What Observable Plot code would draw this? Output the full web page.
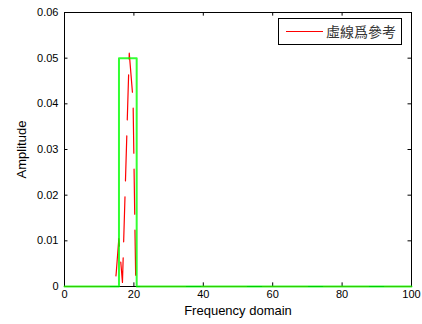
<!DOCTYPE html>
<html>
<head>
<meta charset="utf-8">
<script src="https://cdn.jsdelivr.net/npm/d3@7"></script>
<script src="https://cdn.jsdelivr.net/npm/@observablehq/plot@0.6"></script>
<style>
  html, body { margin: 0; padding: 0; background: white; }
  #wrap { position: relative; width: 422px; height: 324px; }
  #legend {
    position: absolute; left: 278px; top: 18px; width: 124px; height: 27px;
    box-sizing: border-box; border: 1px solid #000; background: #fff;
    font-family: "Noto Sans CJK TC", "Noto Sans CJK SC", sans-serif; font-size: 14px; color: #333;
  }
  #legend svg { position: absolute; left: 0; top: 0; }
  #legend span { position: absolute; left: 47px; top: 2px; line-height: 20px; white-space: nowrap; }
</style>
</head>
<body>
<div id="wrap"></div>
<script>
// Tick values
const xTicks = [0, 20, 40, 60, 80, 100];
const yTicks = [0, 0.01, 0.02, 0.03, 0.04, 0.05, 0.06];

// Green series (rectangular pulse)
const greenX = [0, 15.7, 15.7, 20.8, 20.8, 100];
const greenY = [0, 0, 0.05, 0.05, 0, 0];

// Red dashed series (reference)
const redX = [0, 14.5, 14.9, 15.66, 16.7, 18.66, 19.76, 20.3, 20.56, 100];
const redY = [0, 0, 0.0029, 0.0105, 0.0009, 0.0511, 0.0408, 0.0125, 0, 0];

const legendLabel = "虛線爲參考";

const green = greenX.map((x, i) => ({x, y: greenY[i]}));
const red = redX.map((x, i) => ({x, y: redY[i]}));

const tx = 1;       // tick length in x units
const ty = 0.0008;  // tick length in y units

const chart = Plot.plot({
  width: 422,
  height: 324,
  marginLeft: 64,
  marginRight: 11,
  marginTop: 12,
  marginBottom: 38,
  x: {domain: [0, 100]},
  y: {domain: [0, 0.06]},
  style: {fontFamily: "'Liberation Sans', Arial, sans-serif", fontSize: "11px", color: "#000", background: "white"},
  marks: [
    Plot.frame({stroke: "#000"}),
    // inward ticks
    Plot.ruleX(xTicks, {x: d => d, y1: 0, y2: ty, stroke: "#000"}),
    Plot.ruleX(xTicks, {x: d => d, y1: 0.06 - ty, y2: 0.06, stroke: "#000"}),
    Plot.ruleY(yTicks, {y: d => d, x1: 0, x2: tx, stroke: "#000"}),
    Plot.ruleY(yTicks, {y: d => d, x1: 100 - tx, x2: 100, stroke: "#000"}),
    Plot.axisX(xTicks, {tickSize: 0, tickPadding: 4, label: null, fontSize: 11, tickFormat: d => String(d)}),
    Plot.axisY(yTicks, {tickSize: 0, tickPadding: 6, label: null, fontSize: 11, tickFormat: d => String(d)}),
    Plot.axisX({ticks: [], tickSize: 0, label: "Frequency domain", labelAnchor: "center", labelArrow: "none", labelOffset: 28, fontSize: 13}),
    Plot.axisY({ticks: [], tickSize: 0, label: "Amplitude", labelAnchor: "center", labelArrow: "none", labelOffset: 48, fontSize: 13}),
    Plot.line(red, {x: "x", y: "y", stroke: "#ff0000", strokeWidth: 1.2, strokeDasharray: "45,16"}),
    Plot.line(green, {x: "x", y: "y", stroke: "#00ff00", strokeWidth: 2, strokeOpacity: 0.8})
  ]
});

const wrap = document.getElementById("wrap");
wrap.appendChild(chart);

const legend = document.createElement("div");
legend.id = "legend";
legend.innerHTML = `<svg width="124" height="27"><line x1="7" x2="44" y1="12.5" y2="12.5" stroke="#ff0000" stroke-width="1.2"/></svg><span>${legendLabel}</span>`;
wrap.appendChild(legend);
</script>
</body>
</html>
